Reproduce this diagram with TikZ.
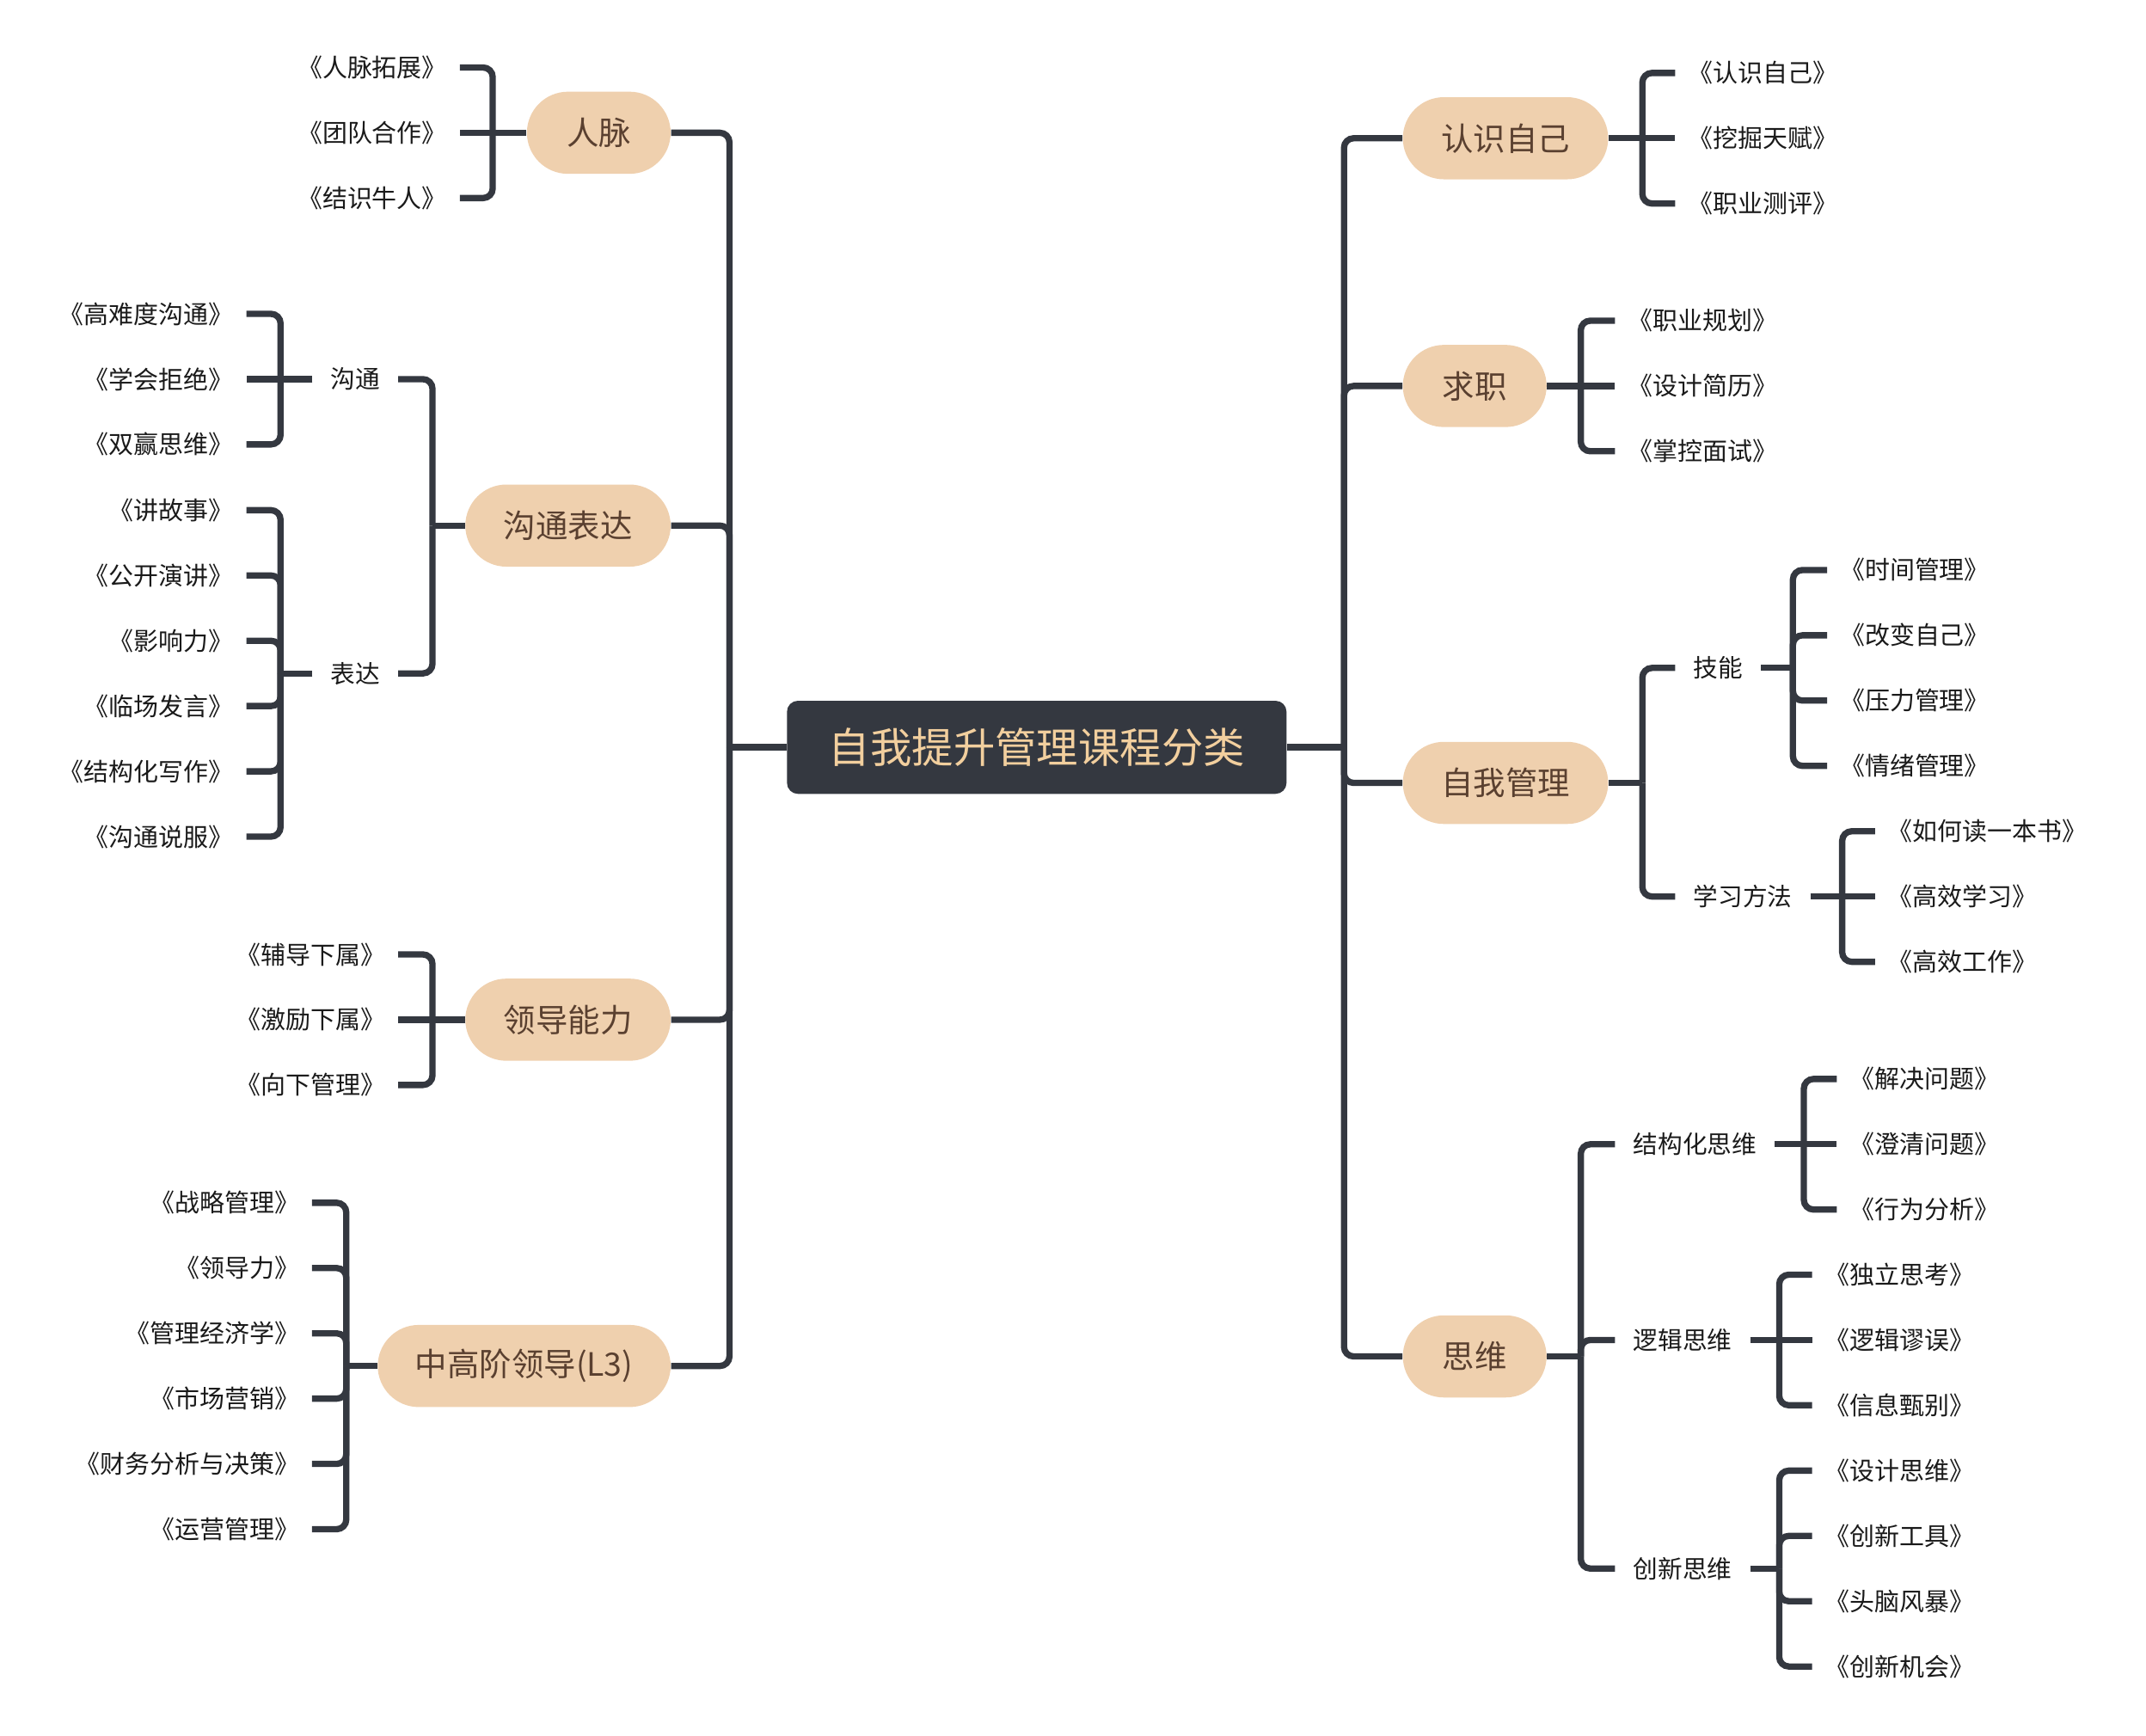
\documentclass[tikz,border=0pt]{standalone}
\usepackage{fontspec}
\setmainfont{Noto Sans CJK SC}
\definecolor{lineC}{HTML}{343840}
\definecolor{peach}{HTML}{EFD0AE}
\definecolor{brownT}{HTML}{5A4030}
\definecolor{rootT}{HTML}{F2CF9E}
\definecolor{textC}{HTML}{1A1A1A}
\begin{document}
\begin{tikzpicture}[x=0.5pt,y=-0.5pt,
 conn/.style={draw=lineC,line width=2.3pt,rounded corners=3.5pt},
 mainnode/.style={fill=peach,text=brownT,rounded corners=15pt,minimum height=30pt,inner sep=0pt,font=\fontsize{11.75}{14}\selectfont},
 rootnode/.style={fill=lineC,text=rootT,rounded corners=4pt,minimum width=182.5pt,minimum height=34pt,inner sep=0pt,font=\fontsize{15.2}{18}\selectfont},
 subnode/.style={inner xsep=6.5pt,inner ysep=2pt,text=textC,font=\fontsize{9}{11}\selectfont},
 leaf/.style={inner xsep=4.5pt,inner ysep=2pt,text=textC,font=\fontsize{9.1}{11}\selectfont}]
\useasboundingbox (0,0) rectangle (1568,1268);

% root
\node[rootnode] (root) at (757.5,546) {自我提升管理课程分类};
\coordinate (TL) at (533,546);
\coordinate (TR) at (982,546);
\draw[conn] (root.west) -- (TL);
\draw[conn] (root.east) -- (TR);

% ===== left main nodes
\node[mainnode,minimum width=52.5pt] (RM) at (437.5,97) {人脉};
\node[mainnode,minimum width=75pt] (GTBD) at (415,384) {沟通表达};
\node[mainnode,minimum width=75pt] (LDNL) at (415,745) {领导能力};
\node[mainnode,minimum width=107pt] (ZGJ) at (383,998) {中高阶领导(L3)};
\foreach \n in {RM,GTBD,LDNL,ZGJ} \draw[conn] (TL) |- (\n.east);

% ===== right main nodes
\node[mainnode,minimum width=75pt] (RSZJ) at (1100,101) {认识自己};
\node[mainnode,minimum width=52.5pt] (QZ) at (1077.5,282) {求职};
\node[mainnode,minimum width=75pt] (ZWGL) at (1100,572) {自我管理};
\node[mainnode,minimum width=52.5pt] (SW) at (1077.5,991) {思维};
\foreach \n in {RSZJ,QZ,ZWGL,SW} \draw[conn] (TR) |- (\n.west);

% ----- 人脉
\coordinate (bRM) at (360,97);
\foreach \t [count=\i from 0] in {《人脉拓展》,《团队合作》,《结识牛人》}
  \node[leaf,anchor=east] (a\i) at (336,{97+(\i-1)*47.7}) {\t};
\draw[conn] (RM.west) -- (bRM);
\draw[conn] (bRM) |- (a0.east);
\draw[conn] (bRM) -- (a1.east);
\draw[conn] (bRM) |- (a2.east);

% ----- 沟通表达
\coordinate (bGTBD) at (316,384);
\draw[conn] (GTBD.west) -- (bGTBD);
\node[subnode,anchor=east] (GT) at (291,277) {沟通};
\node[subnode,anchor=east] (BD) at (291,492) {表达};
\draw[conn] (bGTBD) |- (GT.east);
\draw[conn] (bGTBD) |- (BD.east);
% 沟通
\coordinate (bGT) at (205,277);
\draw[conn] (GT.west) -- (bGT);
\foreach \t [count=\i from 0] in {《高难度沟通》,《学会拒绝》,《双赢思维》}
  \node[leaf,anchor=east] (b\i) at (180,{277+(\i-1)*47.7}) {\t};
\draw[conn] (bGT) |- (b0.east);
\draw[conn] (bGT) -- (b1.east);
\draw[conn] (bGT) |- (b2.east);
% 表达
\coordinate (bBD) at (205,492);
\draw[conn] (BD.west) -- (bBD);
\foreach \t [count=\i from 0] in {《讲故事》,《公开演讲》,《影响力》,《临场发言》,《结构化写作》,《沟通说服》}
  \node[leaf,anchor=east] (c\i) at (180,{492+(\i-2.5)*47.7}) {\t};
\foreach \i in {0,...,5} \draw[conn] (bBD) |- (c\i.east);

% ----- 领导能力
\coordinate (bLDNL) at (316,745);
\draw[conn] (LDNL.west) -- (bLDNL);
\foreach \t [count=\i from 0] in {《辅导下属》,《激励下属》,《向下管理》}
  \node[leaf,anchor=east] (d\i) at (291,{745+(\i-1)*47.7}) {\t};
\draw[conn] (bLDNL) |- (d0.east);
\draw[conn] (bLDNL) -- (d1.east);
\draw[conn] (bLDNL) |- (d2.east);

% ----- 中高阶领导(L3)
\coordinate (bZGJ) at (253,998);
\draw[conn] (ZGJ.west) -- (bZGJ);
\foreach \t [count=\i from 0] in {《战略管理》,《领导力》,《管理经济学》,《市场营销》,《财务分析与决策》,《运营管理》}
  \node[leaf,anchor=east] (e\i) at (228,{998+(\i-2.5)*47.7}) {\t};
\foreach \i in {0,...,5} \draw[conn] (bZGJ) |- (e\i.east);

% ----- 认识自己
\coordinate (bRSZJ) at (1200,101);
\draw[conn] (RSZJ.east) -- (bRSZJ);
\foreach \t [count=\i from 0] in {《认识自己》,《挖掘天赋》,《职业测评》}
  \node[leaf,anchor=west] (f\i) at (1224,{101+(\i-1)*47.7}) {\t};
\draw[conn] (bRSZJ) |- (f0.west);
\draw[conn] (bRSZJ) -- (f1.west);
\draw[conn] (bRSZJ) |- (f2.west);

% ----- 求职
\coordinate (bQZ) at (1155,282);
\draw[conn] (QZ.east) -- (bQZ);
\foreach \t [count=\i from 0] in {《职业规划》,《设计简历》,《掌控面试》}
  \node[leaf,anchor=west] (g\i) at (1180,{282+(\i-1)*47.7}) {\t};
\draw[conn] (bQZ) |- (g0.west);
\draw[conn] (bQZ) -- (g1.west);
\draw[conn] (bQZ) |- (g2.west);

% ----- 自我管理
\coordinate (bZWGL) at (1200,572);
\draw[conn] (ZWGL.east) -- (bZWGL);
\node[subnode,anchor=west] (JN) at (1224,488) {技能};
\node[subnode,anchor=west] (XXFF) at (1224,655) {学习方法};
\draw[conn] (bZWGL) |- (JN.west);
\draw[conn] (bZWGL) |- (XXFF.west);
% 技能
\coordinate (bJN) at (1310,488);
\draw[conn] (JN.east) -- (bJN);
\foreach \t [count=\i from 0] in {《时间管理》,《改变自己》,《压力管理》,《情绪管理》}
  \node[leaf,anchor=west] (h\i) at (1335,{488+(\i-1.5)*47.7}) {\t};
\foreach \i in {0,...,3} \draw[conn] (bJN) |- (h\i.west);
% 学习方法
\coordinate (bXXFF) at (1346,655);
\draw[conn] (XXFF.east) -- (bXXFF);
\foreach \t [count=\i from 0] in {《如何读一本书》,《高效学习》,《高效工作》}
  \node[leaf,anchor=west] (i\i) at (1370,{655+(\i-1)*47.7}) {\t};
\draw[conn] (bXXFF) |- (i0.west);
\draw[conn] (bXXFF) -- (i1.west);
\draw[conn] (bXXFF) |- (i2.west);

% ----- 思维
\coordinate (bSW) at (1155,991);
\draw[conn] (SW.east) -- (bSW);
\node[subnode,anchor=west] (JGH) at (1180,836) {结构化思维};
\node[subnode,anchor=west] (LJ) at (1180,979) {逻辑思维};
\node[subnode,anchor=west] (CX) at (1180,1146) {创新思维};
\foreach \n in {JGH,LJ,CX} \draw[conn] (bSW) |- (\n.west);
% 结构化思维
\coordinate (bJGH) at (1318,836);
\draw[conn] (JGH.east) -- (bJGH);
\foreach \t [count=\i from 0] in {《解决问题》,《澄清问题》,《行为分析》}
  \node[leaf,anchor=west] (j\i) at (1342,{836+(\i-1)*47.7}) {\t};
\draw[conn] (bJGH) |- (j0.west);
\draw[conn] (bJGH) -- (j1.west);
\draw[conn] (bJGH) |- (j2.west);
% 逻辑思维
\coordinate (bLJ) at (1300,979);
\draw[conn] (LJ.east) -- (bLJ);
\foreach \t [count=\i from 0] in {《独立思考》,《逻辑谬误》,《信息甄别》}
  \node[leaf,anchor=west] (k\i) at (1324,{979+(\i-1)*47.7}) {\t};
\draw[conn] (bLJ) |- (k0.west);
\draw[conn] (bLJ) -- (k1.west);
\draw[conn] (bLJ) |- (k2.west);
% 创新思维
\coordinate (bCX) at (1300,1146);
\draw[conn] (CX.east) -- (bCX);
\foreach \t [count=\i from 0] in {《设计思维》,《创新工具》,《头脑风暴》,《创新机会》}
  \node[leaf,anchor=west] (m\i) at (1324,{1146+(\i-1.5)*47.7}) {\t};
\foreach \i in {0,...,3} \draw[conn] (bCX) |- (m\i.west);
\end{tikzpicture}
\end{document}
